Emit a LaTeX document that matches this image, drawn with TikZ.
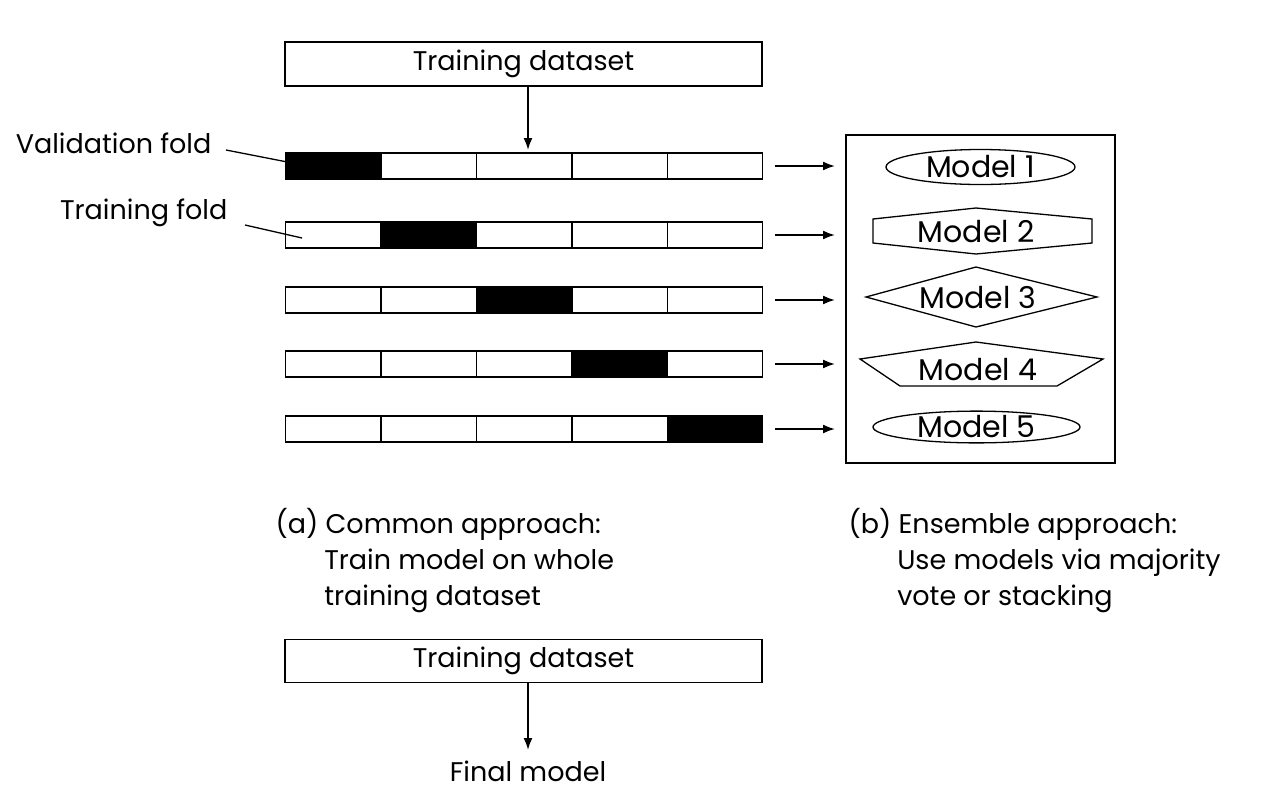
\documentclass[tikz,border=0pt]{standalone}
\usepackage{fontspec}
\setmainfont{Poppins}
\usetikzlibrary{shapes.geometric,arrows.meta}
\begin{document}
\begin{tikzpicture}[x=1pt,y=-1pt,line width=1.3pt,
  lbl/.style={font=\fontsize{27}{36}\selectfont},
  mlbl/.style={font=\fontsize{30}{36}\selectfont},
  seg/.style={draw,line width=1.3pt,minimum width=95.4pt,minimum height=26pt,inner sep=0,anchor=west},
  arr/.style={-{Latex[length=12pt,width=9pt]},line width=1.8pt}]
\useasboundingbox (0,0) rectangle (1284,793);
\node[draw,minimum width=477pt,minimum height=44pt,inner sep=0,lbl] (top) at (523.5,64) {Training dataset};
\foreach \r/\y in {1/166,2/235,3/300,4/364,5/429}{
  \foreach \c in {1,...,5}{
    \pgfmathtruncatemacro\isv{\r==\c}
    \ifnum\isv=1
      \node[seg,fill=black] (s\r\c) at ({285+95.4*(\c-1)},\y) {};
    \else
      \node[seg] (s\r\c) at ({285+95.4*(\c-1)},\y) {};
    \fi
  }
  \coordinate (a\r) at (775,\y);
  \coordinate (b\r) at (835,\y);
  \draw[arr] (a\r) -- (b\r);
}
\coordinate (t1) at (528,150);
\draw[arr] (top.south -| t1) -- (t1);
\node[draw,minimum width=269pt,minimum height=328pt,inner sep=0] (frame) at (980.5,299) {};
\node[draw,ellipse,minimum width=189pt,minimum height=35pt,inner sep=0,mlbl] (m1) at (980.5,167) {Model 1};
\draw (873,219) -- (976,208) -- (1092,219) -- (1092,243) -- (976,254) -- (873,243) -- cycle;
\node[mlbl] (m2) at (976,232) {Model 2};
\draw (866,297) -- (976,267) -- (1097,297) -- (976,327) -- cycle;
\node[mlbl] (m3) at (978,298) {Model 3};
\draw (860,359) -- (976,342) -- (1103,359) -- (1057,386) -- (900,386) -- cycle;
\node[mlbl] (m4) at (978,370) {Model 4};
\node[draw,ellipse,minimum width=207pt,minimum height=30pt,inner sep=0,mlbl] (m5) at (976.5,427) {Model 5};
\node[lbl,anchor=east,inner sep=0] (vf) at (212,143) {Validation fold};
\coordinate (vfe) at (318,168);
\draw (226,150) -- (vfe);
\node[lbl,anchor=east,inner sep=0] (tf) at (228,213) {Training fold};
\coordinate (tfe) at (302,238);
\draw (245,225) -- (tfe);
\node[lbl,anchor=north west,align=left,inner sep=0] (ca) at (275,508) {(a) Common approach:\\\hspace{1.8em}Train model on whole\\\hspace{1.8em}training dataset};
\node[lbl,anchor=north west,align=left,inner sep=0] (cb) at (848,508) {(b) Ensemble approach:\\\hspace{1.8em}Use models via majority\\\hspace{1.8em}vote or stacking};
\node[draw,minimum width=477pt,minimum height=43pt,inner sep=0,lbl] (bot) at (523.5,661) {Training dataset};
\coordinate (t2) at (528,750);
\draw[arr] (bot.south -| t2) -- (t2);
\node[lbl] (fm) at (528,771) {Final model};
\end{tikzpicture}
\end{document}
